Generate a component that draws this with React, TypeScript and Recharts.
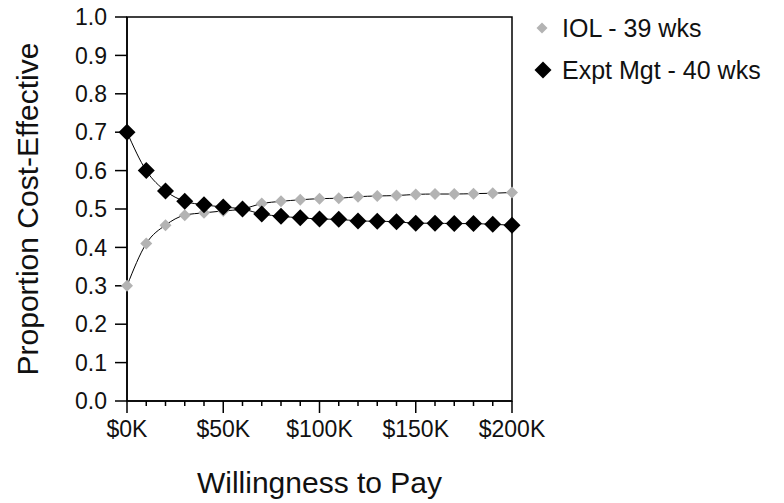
import React from 'react';
import {
  LineChart,
  Line,
  XAxis,
  YAxis,
  ReferenceArea,
  Label,
} from 'recharts';

const wtp = [
  0, 10000, 20000, 30000, 40000, 50000, 60000, 70000, 80000, 90000, 100000,
  110000, 120000, 130000, 140000, 150000, 160000, 170000, 180000, 190000, 200000,
];
const iol = [
  0.3, 0.41, 0.458, 0.484, 0.49, 0.495, 0.5, 0.514, 0.52, 0.524, 0.527,
  0.528, 0.532, 0.534, 0.535, 0.538, 0.539, 0.539, 0.54, 0.541, 0.543,
];
const exptMgt = [
  0.7, 0.6, 0.547, 0.52, 0.511, 0.505, 0.5, 0.487, 0.481, 0.477, 0.474,
  0.473, 0.469, 0.468, 0.467, 0.463, 0.463, 0.462, 0.462, 0.46, 0.458,
];
const majorX = [0, 50000, 100000, 150000, 200000];
const yTicks = [0, 0.1, 0.2, 0.3, 0.4, 0.5, 0.6, 0.7, 0.8, 0.9, 1.0];
const seriesNames = ['IOL - 39 wks', 'Expt Mgt - 40 wks'];

const data = wtp.map((w, i) => ({ wtp: w, iol: iol[i], expt: exptMgt[i] }));

const FONT = '"Liberation Sans", Arial, sans-serif';
const GRAY = '#b3b3b3';
const TEXT = '#111';

function diamond(cx: number, cy: number, r: number) {
  return `M${cx},${cy - r}L${cx + r},${cy}L${cx},${cy + r}L${cx - r},${cy}Z`;
}

const GrayDot = (props: any) => {
  const { cx, cy, index } = props;
  if (cx == null || cy == null) return null;
  return <path key={`g${index}`} d={diamond(cx, cy, 6)} fill={GRAY} />;
};

const BlackDot = (props: any) => {
  const { cx, cy, index } = props;
  if (cx == null || cy == null) return null;
  return <path key={`b${index}`} d={diamond(cx, cy, 8.5)} fill="#000" />;
};

// major ticks get a long mark and a label, the rest a short mark
const XTick = (props: any) => {
  const { x, y, payload } = props;
  const major = majorX.includes(payload.value);
  return (
    <g>
      <line x1={x} y1={y} x2={x} y2={y + (major ? 12 : 5)} stroke="#000" strokeWidth={1.5} />
      {major && (
        <text x={x} y={y + 20} dy="0.71em" textAnchor="middle" fontSize={23} fill={TEXT}>
          {`$${payload.value / 1000}K`}
        </text>
      )}
    </g>
  );
};

function LegendBox() {
  return (
    <svg
      width={250}
      height={90}
      style={{ position: 'absolute', left: 530, top: 13, fontFamily: FONT }}
    >
      <path d={diamond(12, 15, 5.5)} fill={GRAY} />
      <text x={32} y={15} dy="0.36em" fontSize={25} fill={TEXT}>
        {seriesNames[0]}
      </text>
      <path d={diamond(13, 57, 8.5)} fill="#000" />
      <text x={32} y={57} dy="0.36em" fontSize={25} fill={TEXT}>
        {seriesNames[1]}
      </text>
    </svg>
  );
}

export default function App() {
  return (
    <div style={{ position: 'absolute', left: 0, top: 0, width: 784, height: 503, background: '#fff' }}>
      <LineChart
        width={784}
        height={503}
        data={data}
        margin={{ top: 17, right: 272, bottom: 62, left: 67 }}
        style={{ fontFamily: FONT }}
      >
        <ReferenceArea
          x1={0}
          x2={200000}
          y1={0}
          y2={1}
          fill="#fff"
          fillOpacity={0}
          stroke="#000"
          strokeWidth={1.5}
        />
        <XAxis
          type="number"
          dataKey="wtp"
          domain={[0, 200000]}
          ticks={wtp}
          interval={0}
          height={40}
          tickSize={0}
          tickMargin={0}
          tickLine={false}
          stroke="#000"
          strokeWidth={1.5}
          tick={<XTick />}
        >
          <Label
            value="Willingness to Pay"
            position="bottom"
            offset={31}
            style={{ fontSize: 30, fill: TEXT }}
          />
        </XAxis>
        <YAxis
          type="number"
          domain={[0, 1]}
          ticks={yTicks}
          interval={0}
          tickFormatter={(v: number) => v.toFixed(1)}
          width={60}
          tickSize={12}
          tickMargin={8}
          stroke="#000"
          strokeWidth={1.5}
          tick={{ fill: TEXT, fontSize: 23 }}
        >
          <Label
            value="Proportion Cost-Effective"
            angle={-90}
            position="left"
            offset={40}
            style={{ fontSize: 30, fill: TEXT, textAnchor: 'middle' }}
          />
        </YAxis>
        <Line
          type="monotone"
          dataKey="iol"
          name={seriesNames[0]}
          stroke="#000"
          strokeWidth={1}
          dot={GrayDot}
          activeDot={false}
          isAnimationActive={false}
        />
        <Line
          type="monotone"
          dataKey="expt"
          name={seriesNames[1]}
          stroke="#000"
          strokeWidth={1}
          dot={BlackDot}
          activeDot={false}
          isAnimationActive={false}
        />
      </LineChart>
      <LegendBox />
    </div>
  );
}
